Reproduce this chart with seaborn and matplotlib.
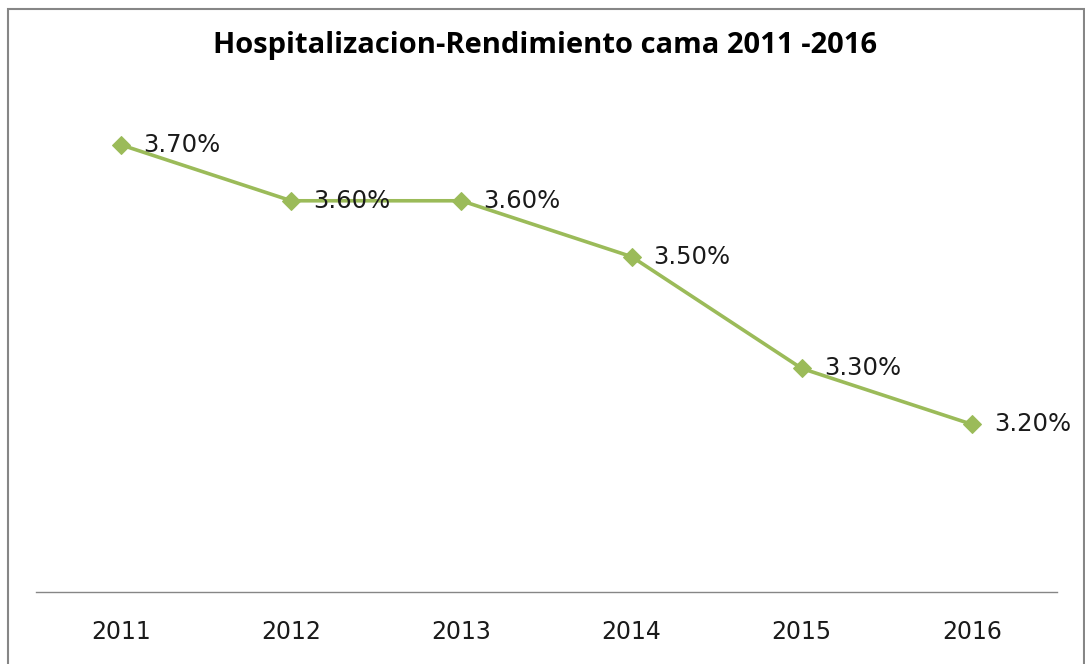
import pandas as pd
import seaborn as sns
import matplotlib.pyplot as plt
from matplotlib.patches import Rectangle

# datos
years = ['2011', '2012', '2013', '2014', '2015', '2016']
rendimiento = [3.7, 3.6, 3.6, 3.5, 3.3, 3.2]
labels = ['3.70%', '3.60%', '3.60%', '3.50%', '3.30%', '3.20%']

df = pd.DataFrame({'year': years, 'rend': rendimiento})

sns.set_style('white')
plt.rcParams['font.family'] = ['DejaVu Sans']

fig = plt.figure(figsize=(10.85, 6.64), dpi=100)
ax = fig.add_axes([36/1085, 1 - 592/664, (1057 - 36)/1085, (592 - 89)/664])

green = '#9BBB59'
sns.lineplot(data=df, x='year', y='rend', ax=ax, color=green, linewidth=2.6,
             marker='D', markersize=9, markeredgecolor=green, sort=False)

for i, (v, t) in enumerate(zip(rendimiento, labels)):
    ax.annotate(t, (i, v), xytext=(22, 0), textcoords='offset pixels',
                ha='left', va='center', fontsize=17.5, color='#1a1a1a')

ax.set_xlim(-0.5, 5.5)
ax.set_ylim(2.9, 3.8)
ax.set_yticks([])
ax.set_xlabel('')
ax.set_ylabel('')
for s in ['top', 'right', 'left']:
    ax.spines[s].set_visible(False)
ax.spines['bottom'].set_color('#868686')
ax.spines['bottom'].set_linewidth(1)
ax.tick_params(axis='x', length=0, pad=20, labelsize=17, labelcolor='#1a1a1a')

fig.text(545/1085, 1 - 45/664, 'Hospitalizacion-Rendimiento cama 2011 -2016',
         ha='center', va='center', fontsize=21, fontweight='bold',
         family='Open Sans', color='black')

fig.patches.append(Rectangle((8/1085, -0.02), (1084 - 8)/1085, 1 - 9/664 + 0.02,
                             transform=fig.transFigure, fill=False,
                             edgecolor='#868686', linewidth=1.5))

fig.savefig('out.png', dpi=100)
